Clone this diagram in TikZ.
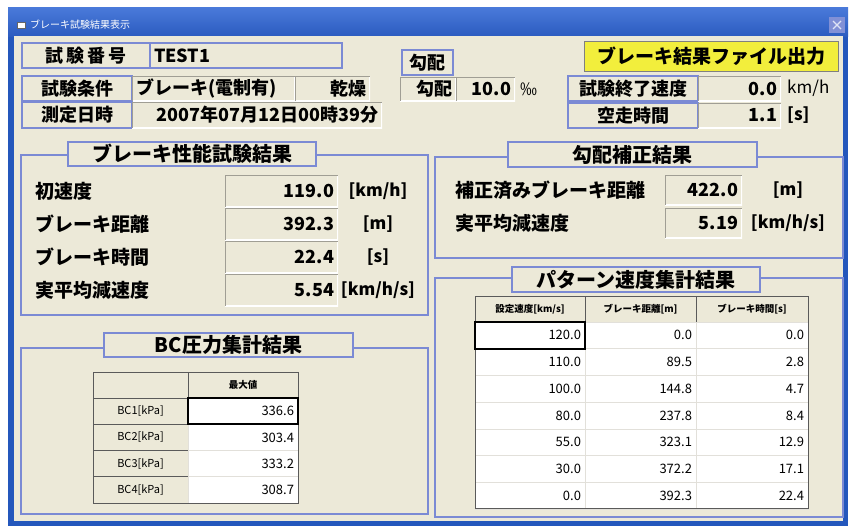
\documentclass[tikz,border=0pt]{standalone}
\usepackage{fontspec}
\setmainfont{Noto Sans CJK JP}
\definecolor{winbg}{HTML}{ECE9D8}
\definecolor{winblue}{HTML}{2457BC}
\definecolor{bartop}{HTML}{4A7ADA}
\definecolor{barbot}{HTML}{2C5CC0}
\definecolor{grpblue}{HTML}{7B8AD4}
\definecolor{sunkgray}{HTML}{A09E94}
\definecolor{btnyel}{HTML}{F2EE3C}
\definecolor{cellline}{HTML}{5A5A5A}
\definecolor{gridgray}{HTML}{E2E0DA}
\definecolor{closebtn}{HTML}{8190D6}
\newcommand\fBar{\fontsize{10}{10}\selectfont}
\newcommand\fLbl{\fontsize{18}{18}\selectfont\bfseries}
\newcommand\fGrp{\fontsize{20}{20}\selectfont\bfseries}
\newcommand\fVal{\fontsize{18}{18}\selectfont\bfseries}
\newcommand\fUnit{\fontsize{17}{17}\selectfont}
\newcommand\fRow{\fontsize{19}{19}\selectfont\bfseries}
\newcommand\fTbl{\fontsize{13}{13}\selectfont}
\newcommand\fHdr{\fontsize{9.5}{9.5}\selectfont\bfseries}
\tikzset{
  box/.style={anchor=north west, inner xsep=4pt, inner ysep=0pt, outer sep=0pt},
  lbl/.style={box, draw=grpblue, line width=1.3pt, fill=winbg, font=\fLbl},
  sunk/.style={box, fill=winbg, font=\fVal, path picture={
      \draw[white, line width=2pt] (path picture bounding box.south west) -- (path picture bounding box.south east) -- (path picture bounding box.north east);
      \draw[sunkgray, line width=2.4pt] (path picture bounding box.south west) -- (path picture bounding box.north west) -- (path picture bounding box.north east);}},
  sunkr/.style={sunk, text width=#1, align=right},
  grp/.style={draw=grpblue, line width=2pt},
  grptitle/.style={lbl, font=\fGrp},
  unit/.style={font=\fUnit, inner sep=0pt},
  rowlbl/.style={anchor=west, font=\fRow, inner sep=0pt},
  raised/.style={box, fill=winbg, draw=cellline, line width=0.8pt, font=\fHdr},
  cell/.style={box, fill=white, draw=gridgray, line width=0.6pt, font=\fTbl, text width=#1, align=right},
  btn/.style={box, fill=btnyel, draw=gray, line width=1pt, font=\fontsize{19}{19}\selectfont\bfseries}
}
\begin{document}
\begin{tikzpicture}[x=1pt,y=-1pt]
\useasboundingbox (0,0) rectangle (851,525);
\fill[white] (0,0) rectangle (851,525);
\fill[winblue] (8,7) rectangle (848,528);
\shade[top color=bartop, bottom color=barbot] (8,7) rectangle (848,36);
\fill[winbg] (14,36) rectangle (843,521);
\node[box, fill=white, draw=black!60, minimum width=8, minimum height=6, inner sep=0pt, line width=1pt] (icon) at (17,22) {};
\node[anchor=west, text=white, font=\fBar, inner sep=0pt] (title) at (30,25) {ブレーキ試験結果表示};
\node[box, fill=closebtn, minimum width=16, minimum height=16, inner sep=0pt] (close) at (829,17) {};
\draw[white!75!closebtn, line width=1.2pt] ([shift={(4,4)}]close.north west) -- ([shift={(-4,-4)}]close.south east);
\draw[white!75!closebtn, line width=1.2pt] ([shift={(-4,4)}]close.north east) -- ([shift={(4,-4)}]close.south west);

\node[lbl, minimum width=128, minimum height=25] (testno) at (22,43) {試\,験\,番\,号};
\node[lbl, minimum height=25, text width=184pt, align=left] (testname) at (150,43) {TEST1};
\node[lbl, minimum width=51, minimum height=25] (gradhead) at (402,50) {勾配};
\node[btn, minimum width=254, minimum height=30] (export) at (584,41) {ブレーキ結果ファイル出力};

\node[lbl, minimum width=110, minimum height=25] (cond) at (22,76) {試験条件};
\node[sunk, minimum height=25, text width=155pt, align=left] (brake) at (132,76) {ブレーキ(電制有)};
\node[sunkr=67pt, minimum height=25] (dry) at (295,76) {乾燥};
\node[sunkr=48pt, minimum height=24] (gradlbl) at (400,77) {勾配};
\node[sunkr=51pt, minimum height=24] (gradval) at (456,77) {10.0};
\node[unit, anchor=west] (permil) at ([xshift=5]gradval.east) {‰};
\node[lbl, minimum width=130, minimum height=25] (endlbl) at (568,76) {試験終了速度};
\node[sunkr=75pt, minimum height=25] (endval) at (698,76) {0.0};
\node[unit, anchor=west] (endunit) at ([xshift=6]endval.east) {km/h};

\node[lbl, minimum width=110, minimum height=26] (date) at (22,102) {測定日時};
\node[sunkr=242pt, minimum height=26] (dateval) at (132,102) {2007年07月12日00時39分};
\node[lbl, minimum width=130, minimum height=25] (idle) at (568,103) {空走時間};
\node[sunkr=75pt, minimum height=25] (idleval) at (698,103) {1.1};
\node[unit, anchor=west, font=\fUnit\bfseries] (idleunit) at ([xshift=6]idleval.east) {[s]};

\draw[grp] (21,155) rectangle (428,315);
\node[grptitle, minimum width=248, minimum height=24] (perf) at (68,142) {ブレーキ性能試験結果};
\foreach \lab/\val/\un [count=\i from 0] in {初速度/119.0/{[km/h]}, ブレーキ距離/392.3/{[m]}, ブレーキ時間/22.4/{[s]}, 実平均減速度/5.54/{[km/h/s]}} {
  \node[sunkr=105pt, minimum height=32] (bp\i) at (225,{175+33*\i}) {\val};
  \node[rowlbl] (bl\i) at ([xshift=-190]bp\i.west) {\lab};
  \node[unit, font=\fUnit\bfseries] (bu\i) at ([xshift=40]bp\i.east) {\un};
}

\draw[grp] (435,157) rectangle (843,258);
\node[grptitle, minimum width=249, minimum height=25] (corr) at (508,142) {勾配補正結果};
\foreach \lab/\val/\un [count=\i from 0] in {補正済みブレーキ距離/422.0/{[m]}, 実平均減速度/5.19/{[km/h/s]}} {
  \node[sunkr=69pt, minimum height=30] (cp\i) at (665,{175+33*\i}) {\val};
  \node[rowlbl] (cl\i) at ([xshift=-210]cp\i.west) {\lab};
  \node[unit, font=\fUnit\bfseries] (cu\i) at ([xshift=46]cp\i.east) {\un};
}

\draw[grp] (435,278) rectangle (843,517);
\node[grptitle, minimum width=248, minimum height=25] (pat) at (512,267) {パターン速度集計結果};
\node[raised, minimum width=110, minimum height=26] (ph1) at (475,296) {設定速度[km/s]};
\node[raised, minimum width=111, minimum height=26] (ph2) at (585,296) {ブレーキ距離[m]};
\node[raised, minimum width=112, minimum height=26] (ph3) at (696,296) {ブレーキ時間[s]};
\foreach \a/\b/\c [count=\r] in {120.0/0.0/0.0, 110.0/89.5/2.8, 100.0/144.8/4.7, 80.0/237.8/8.4, 55.0/323.1/12.9, 30.0/372.2/17.1, 0.0/392.3/22.4} {
  \node[cell=102pt, minimum height=26.7] (pc\r a) at (475,{322+26.7*(\r-1)}) {\a};
  \node[cell=103pt, minimum height=26.7] (pc\r b) at (585,{322+26.7*(\r-1)}) {\b};
  \node[cell=104pt, minimum height=26.7] (pc\r c) at (696,{322+26.7*(\r-1)}) {\c};
}
\draw[cellline, line width=1pt] (ph1.north west) rectangle (pc7c.south east);
\draw[black, line width=1.6pt] (pc1a.north west) rectangle (pc1a.south east);

\draw[grp] (21,348) rectangle (428,514);
\node[grptitle, minimum width=249, minimum height=24] (bc) at (104,333) {BC圧力集計結果};
\node[raised, minimum width=95, minimum height=26] (bh1) at (93,372) {};
\node[raised, minimum width=110, minimum height=26] (bh2) at (188,372) {最大値};
\foreach \v [count=\i] in {336.6, 303.4, 333.2, 308.7} {
  \node[raised, minimum width=95, minimum height=26.25, font=\fontsize{11}{11}\selectfont] (bn\i) at (93,{398+26.25*(\i-1)}) {BC\i[kPa]};
  \node[cell=102pt, minimum height=26.25] (bv\i) at (188,{398+26.25*(\i-1)}) {\v};
}
\draw[cellline, line width=1pt] (bh1.north west) rectangle (bv4.south east);
\draw[black, line width=1.6pt] (bv1.north west) rectangle (bv1.south east);
\end{tikzpicture}
\end{document}
